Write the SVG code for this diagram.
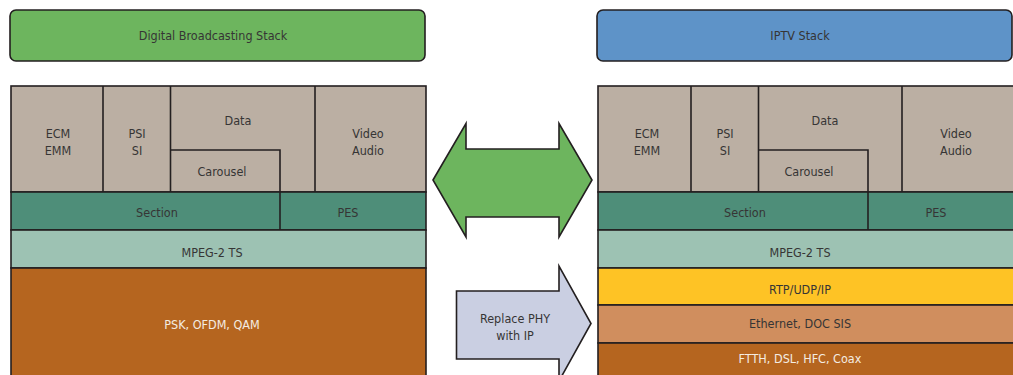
<svg xmlns="http://www.w3.org/2000/svg" width="1013" height="375" viewBox="0 0 1013 375">
  <style>
    .ln { stroke: #231f20; stroke-width: 1.6; }
    .t { font-family: "DejaVu Sans", sans-serif; font-stretch: condensed; font-size: 12.5px; fill: #363535; text-anchor: middle; }
    .w { fill: #f4ece2; }
    .tan { fill: #bbafa3; }
    .sec { fill: #4e8e79; }
    .mpeg { fill: #9dc2b3; }
    .phy { fill: #b5651f; }
    .rtp { fill: #fec325; }
    .eth { fill: #d08e5e; }
  </style>
  <rect width="1013" height="375" fill="#ffffff"/>

  <!-- Stack headers -->
  <g id="hdr-broadcast">
    <rect x="10" y="10" width="415" height="51" rx="6" fill="#6db55e" class="ln"/>
    <text class="t" x="213" y="40">Digital Broadcasting Stack</text>
  </g>
  <g id="hdr-iptv">
    <rect x="597" y="10" width="415" height="51" rx="6" fill="#5e93c8" class="ln"/>
    <text class="t" x="800" y="40">IPTV Stack</text>
  </g>

  <!-- Digital broadcasting stack -->
  <g id="stack-broadcast">
    <rect x="11" y="86" width="415" height="106" class="tan ln"/>
    <line x1="103" y1="86" x2="103" y2="192" class="ln"/>
    <line x1="170.5" y1="86" x2="170.5" y2="192" class="ln"/>
    <line x1="315" y1="86" x2="315" y2="192" class="ln"/>
    <polyline points="170.5,150 280,150 280,192" fill="none" class="ln"/>
    <rect x="11" y="192" width="415" height="38" class="sec ln"/>
    <line x1="280" y1="192" x2="280" y2="230" class="ln"/>
    <rect x="11" y="230" width="415" height="38" class="mpeg ln"/>
    <rect x="11" y="268" width="415" height="120" class="phy ln"/>
    <text class="t" x="58" y="138">ECM</text>
    <text class="t" x="58" y="155">EMM</text>
    <text class="t" x="137" y="138">PSI</text>
    <text class="t" x="137" y="155">SI</text>
    <text class="t" x="238" y="125">Data</text>
    <text class="t" x="222" y="176">Carousel</text>
    <text class="t" x="368" y="138">Video</text>
    <text class="t" x="368" y="155">Audio</text>
    <text class="t" x="157" y="217">Section</text>
    <text class="t" x="348" y="217">PES</text>
    <text class="t" x="212" y="257">MPEG-2 TS</text>
    <text class="t w" x="212" y="329">PSK, OFDM, QAM</text>
  </g>

  <!-- IPTV stack -->
  <g id="stack-iptv">
    <rect x="598" y="86" width="420" height="106" class="tan ln"/>
    <line x1="691" y1="86" x2="691" y2="192" class="ln"/>
    <line x1="758.5" y1="86" x2="758.5" y2="192" class="ln"/>
    <line x1="902" y1="86" x2="902" y2="192" class="ln"/>
    <polyline points="758.5,150 868,150 868,192" fill="none" class="ln"/>
    <rect x="598" y="192" width="420" height="38" class="sec ln"/>
    <line x1="868" y1="192" x2="868" y2="230" class="ln"/>
    <rect x="598" y="230" width="420" height="38" class="mpeg ln"/>
    <rect x="598" y="268" width="420" height="37" class="rtp ln"/>
    <rect x="598" y="305" width="420" height="38" class="eth ln"/>
    <rect x="598" y="343" width="420" height="45" class="phy ln"/>
    <text class="t" x="647" y="138">ECM</text>
    <text class="t" x="647" y="155">EMM</text>
    <text class="t" x="725" y="138">PSI</text>
    <text class="t" x="725" y="155">SI</text>
    <text class="t" x="825" y="125">Data</text>
    <text class="t" x="809" y="176">Carousel</text>
    <text class="t" x="956" y="138">Video</text>
    <text class="t" x="956" y="155">Audio</text>
    <text class="t" x="745" y="217">Section</text>
    <text class="t" x="936" y="217">PES</text>
    <text class="t" x="800" y="257">MPEG-2 TS</text>
    <text class="t" x="800" y="294">RTP/UDP/IP</text>
    <text class="t" x="800" y="328">Ethernet, DOC SIS</text>
    <text class="t w" x="800" y="363">FTTH, DSL, HFC, Coax</text>
  </g>

  <!-- Arrows between the stacks -->
  <g id="connectors">
    <polygon points="433,180 466,123.5 466,149 559,149 559,123.5 592,180 559,237 559,217 466,217 466,237" fill="#6db55e" class="ln"/>
    <polygon points="456.5,291 559,291 559,266 591,323.5 559,381 559,359 456.5,359" fill="#cacfe2" class="ln"/>
    <text class="t" x="515" y="323">Replace PHY</text>
    <text class="t" x="515" y="340">with IP</text>
  </g>
</svg>
